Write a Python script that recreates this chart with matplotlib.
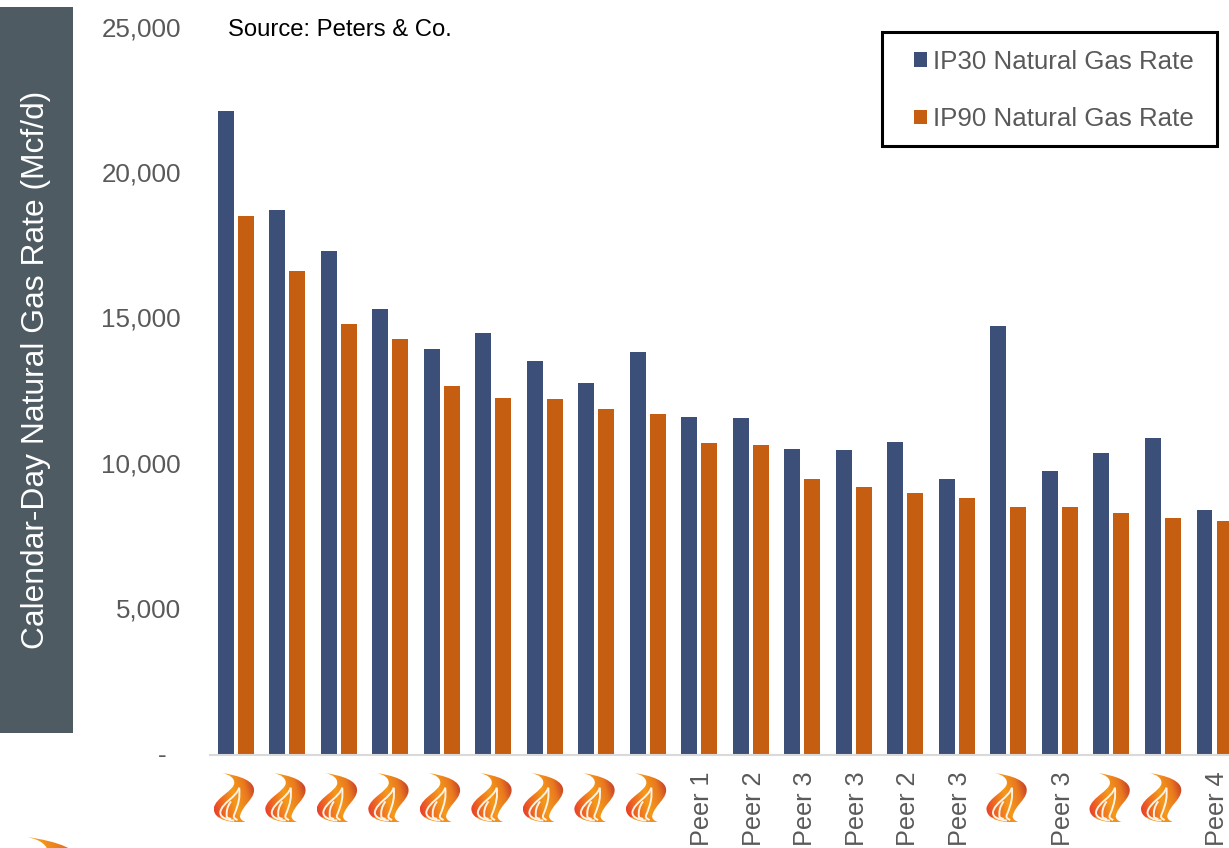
import numpy as np
from matplotlib import pyplot as plt
from matplotlib.colors import LinearSegmentedColormap
from matplotlib.patches import PathPatch, Rectangle
from matplotlib.path import Path
from matplotlib.transforms import ScaledTranslation

plt.rcParams['font.family'] = ['Liberation Sans', 'DejaVu Sans']

# "" means the company flame logo instead of a peer name
categories = ["", "", "", "", "", "", "", "", "", "Peer 1", "Peer 2", "Peer 3", "Peer 3",
              "Peer 2", "Peer 3", "", "Peer 3", "", "", "Peer 4"]
ip30 = [22130, 18720, 17310, 15320, 13950, 14500, 13530, 12770, 13840, 11600,
        11570, 10510, 10470, 10750, 9470, 14730, 9750, 10370, 10880, 8410]
ip90 = [18520, 16630, 14810, 14290, 12670, 12260, 12220, 11880, 11710, 10710,
        10640, 9470, 9200, 8990, 8820, 8510, 8510, 8300, 8130, 8030]
y_ticks = [0, 5000, 10000, 15000, 20000, 25000]
y_labels = ["-  ", "5,000", "10,000", "15,000", "20,000", "25,000"]

W, H = 1229, 848
NAVY = "#3c4f78"
ORANGE = "#c55e11"
GREY = "#595959"

fig = plt.figure(figsize=(W / 100, H / 100), dpi=100)
ax = fig.add_axes([210 / W, (H - 754.5) / H, (W - 210) / W, (754.5 - 27.5) / H])

x = np.arange(len(categories))
bars30 = ax.bar(x - 0.194, ip30, 0.31, color=NAVY)
bars90 = ax.bar(x + 0.194, ip90, 0.31, color=ORANGE)

ax.set_xlim(-0.5, (W - 210.25) / 51.5 - 0.5)
ax.set_ylim(0, 25000)
ax.set_yticks(y_ticks, y_labels, fontsize=18.7, color=GREY)
ax.set_xticks(x, categories, rotation=90, fontsize=18.2, color=GREY)
ax.tick_params(axis="y", length=0, pad=21)
ax.tick_params(axis="x", length=0, pad=12)
for label in ax.get_xticklabels():
    label.set_transform(label.get_transform() + ScaledTranslation(3 / 100, 0, fig.dpi_scale_trans))
for label in ax.get_yticklabels():
    label.set_transform(label.get_transform() + ScaledTranslation(0, 1 / 100, fig.dpi_scale_trans))
for name in ["top", "right", "left"]:
    ax.spines[name].set_visible(False)
ax.spines["bottom"].set_color("#d9d9d9")
ax.spines["bottom"].set_linewidth(1.5)

# overlay in pixel coordinates for the side band, legend box and logos
over = fig.add_axes([0, 0, 1, 1], zorder=5)
over.set_xlim(0, W)
over.set_ylim(H, 0)
over.axis("off")

over.add_patch(Rectangle((0, 7), 73, 726, color="#4f5b63", lw=0))
over.text(36, 370, "Calendar-Day Natural Gas Rate (Mcf/d)", rotation=90, color="white",
          fontsize=22.9, ha="center", va="center")
over.text(228, 29.5, "Source: Peters & Co.", color="black", fontsize=17.2, va="center")

over.add_patch(Rectangle((881.5, 32), 335, 114, facecolor="white", edgecolor="black", lw=2.2))
over.legend([bars30, bars90], ["IP30 Natural Gas Rate", "IP90 Natural Gas Rate"],
            loc="center left", bbox_to_anchor=(891 / W, 1 - 90.5 / H), frameon=False,
            fontsize=18.6, handlelength=0.5, handleheight=0.5, handletextpad=0.22,
            labelspacing=1.3, labelcolor=GREY)

flame_cmap = LinearSegmentedColormap.from_list(
    "flame", ["#e8352d", "#ee6a22", "#f59a1a", "#e9791f", "#b8292b"])
grid_y, grid_x = np.mgrid[0:1:80j, 0:1:80j]
flame_colors = np.clip(0.75 * grid_x + 0.25 * (1 - grid_y), 0, 1)
flame_colors = np.where(grid_y > 0.9, 0.45, flame_colors)

outer = Path([(0.2, 0), (0.6, 0.05), (1.02, 0.15), (0.98, 0.38),
              (0.95, 0.56), (0.7, 0.66), (0.64, 0.88),
              (0.64, 0.94), (0.7, 0.98), (0.78, 1.0),
              (0.45, 1.02), (0.0, 0.98), (0.0, 0.72),
              (0.04, 0.5), (0.5, 0.36), (0.5, 0.2),
              (0.5, 0.1), (0.38, 0.03), (0.2, 0)],
             [Path.MOVETO] + [Path.CURVE4] * 18)
licks = [[(0.62, 0.3), (0.55, 0.5), (0.2, 0.6), (0.16, 0.8), (0.15, 0.9), (0.3, 0.96), (0.5, 0.97)],
         [(0.62, 0.3), (0.64, 0.5), (0.62, 0.6), (0.5, 0.85), (0.47, 0.9), (0.5, 0.93), (0.58, 0.96)],
         [(0.42, 0.58), (0.33, 0.68), (0.3, 0.78), (0.32, 0.9), (0.34, 0.92), (0.38, 0.93), (0.42, 0.94)]]


def draw_flame(left, top, w, h):
    place = lambda p: (left + p[0] * w, top + p[1] * h)
    shape = Path([place(p) for p in outer.vertices], outer.codes)
    patch = PathPatch(shape, transform=over.transData, facecolor="none", edgecolor="none")
    over.add_patch(patch)
    img = over.imshow(flame_colors, extent=(left, left + w, top + h, top), cmap=flame_cmap,
                      vmin=0, vmax=1, aspect="auto", interpolation="bilinear")
    img.set_clip_path(patch)
    for lick in licks:
        pts = [place(p) for p in lick]
        over.add_patch(PathPatch(Path(pts, [Path.MOVETO] + [Path.CURVE4] * 6), facecolor="none",
                                 edgecolor="#fdf3e6", lw=1.4 * w / 41))


for i, name in enumerate(categories):
    if name == "":
        cx = ax.transData.transform((i, 0))[0]
        draw_flame(cx - 22, 773, 41, 49)
draw_flame(13, 837, 70, 80)

over.set_xlim(0, W)
over.set_ylim(H, 0)

fig.savefig("out.png", dpi=100)
